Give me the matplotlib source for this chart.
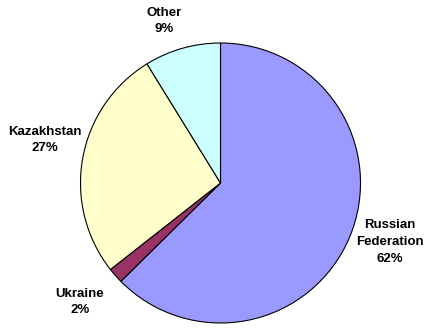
import matplotlib
matplotlib.use("Agg")
import matplotlib.pyplot as plt

categories = ["Russian\nFederation", "Ukraine", "Kazakhstan", "Other"]
shares = [62.6, 1.8, 26.8, 8.8]
pct_labels = ["62%", "2%", "27%", "9%"]
colors = ["#9999FF", "#993366", "#FFFFCC", "#CCFFFF"]

H = 329
# label anchor positions (pixels from top-left)
label_pos = [(390, 242), (80, 302), (45, 140), (164, 21)]

fig = plt.figure(figsize=(4.30, 3.29), dpi=100)
ax = fig.add_axes([0, 0, 1, 1])
ax.set_aspect("equal")
ax.axis("off")

ax.pie(shares, colors=colors, startangle=90, counterclock=False,
       center=(220.5, H - 183), radius=140,
       wedgeprops=dict(edgecolor="black", linewidth=0.8))
ax.set_xlim(0, 430)
ax.set_ylim(0, H)

for cat, pct, (x, y) in zip(categories, pct_labels, label_pos):
    ax.text(x, H - y, f"{cat}\n{pct}", ha="center", va="center",
            fontsize=9.5, fontweight="bold", family="Liberation Sans",
            linespacing=1.5)

fig.savefig("out.png", dpi=100)
